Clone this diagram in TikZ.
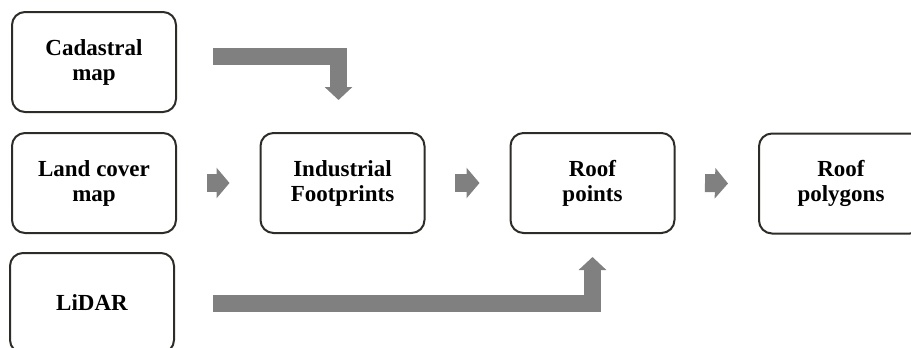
\documentclass[tikz,border=0pt]{standalone}
\usepackage{fontspec}
\setmainfont{Liberation Serif}
\usetikzlibrary{arrows.meta}
\definecolor{boxline}{HTML}{2E2C28}
\definecolor{flowgray}{HTML}{808080}
\begin{document}
\begin{tikzpicture}[x=1pt,y=-1pt,line join=round,font=\fontsize{23}{25}\selectfont\bfseries]
				\tikzset{
						box/.style={draw=boxline,line width=2pt,rounded corners=13pt,minimum width=164pt,minimum height=100pt,align=center,inner sep=0pt},
						bigflow/.style={draw=flowgray,line width=17pt,line join=miter,-{Triangle[width=27pt,length=13pt]}},
						smallflow/.style={draw=flowgray,line width=18pt,-{Triangle[width=30pt,length=13pt]}}
				}
				\useasboundingbox (0,0) rectangle (911,348);
				\node[box] (cad) at (94,62) {Cadastral\\map};
				\node[box] (land) at (94,183) {Land cover\\map};
				\node[box] (lidar) at (92,303) {LiDAR};
				\node[box] (ind) at (342.5,183) {Industrial\\Footprints};
				\node[box] (roofp) at (592.5,183) {Roof\\points};
				\node[box] (roofpoly) at (841,183.5) {Roof\\polygons};
				\foreach \a/\b in {land/ind,ind/roofp,roofp/roofpoly}{
					\draw[smallflow] ([xshift=29.5pt]\a.east) -- ([xshift=-30pt]\b.west);
				}
				\draw[bigflow] ([shift={(36pt,6pt)}]cad.east) -| ([shift={(-4pt,32pt)}]ind.north);
				\draw[bigflow] ([xshift=38pt]lidar.east) -| ([yshift=-23pt]roofp.south);
			\end{tikzpicture}
\end{document}
